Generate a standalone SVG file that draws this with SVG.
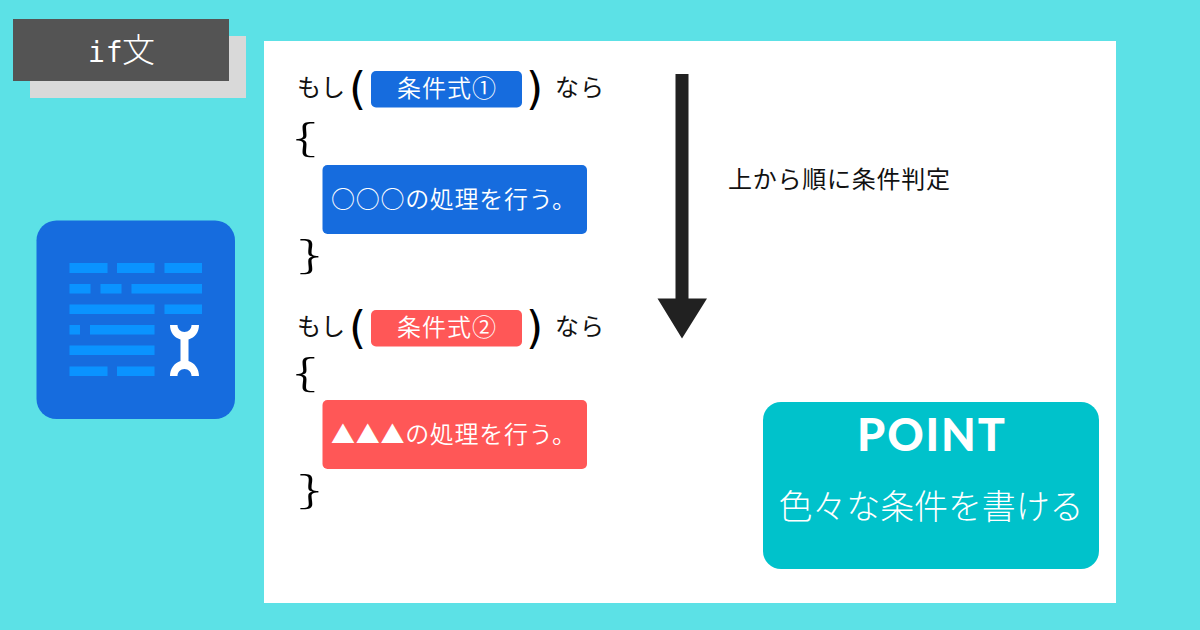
<svg xmlns="http://www.w3.org/2000/svg" width="1200" height="630" viewBox="0 0 1200 630">
<style>
text{font-family:"Noto Sans CJK JP","Noto Sans",sans-serif;}
.b{fill:#111;font-size:24px;font-weight:400}
.w{fill:#fff;font-size:24px;font-weight:350}
.p{font-family:"DejaVu Sans","Noto Sans",sans-serif;fill:#000;font-size:44px}
.br{fill:#000;font-size:37px;font-weight:300}
.c{fill:#0a93ff}
</style>
<rect width="1200" height="630" fill="#5ce1e6"/>
<rect x="264" y="41" width="852" height="562" fill="#fff"/>
<g id="title">
<rect x="30" y="36" width="216" height="62" fill="#d9d9d9"/>
<rect x="13" y="19" width="216" height="62" fill="#545454"/>
<text x="88" y="62" fill="#fff" style="font-family:'DejaVu Sans Mono',monospace;font-size:28px" letter-spacing="1">if</text>
<text x="122" y="62" font-size="33" fill="#fff" font-weight="300">文</text>
</g>
<g id="icon">
<rect x="36.500" y="220.500" width="198.500" height="198.500" rx="20" fill="#166cde"/>
<rect class="c" x="69.500" y="263" width="38" height="10"/><rect class="c" x="117" y="263" width="37.500" height="10"/><rect class="c" x="164.500" y="263" width="37.500" height="10"/>
<rect class="c" x="69.500" y="284" width="21" height="9.500"/><rect class="c" x="100.500" y="284" width="21" height="9.500"/><rect class="c" x="131.500" y="284" width="70.500" height="9.500"/>
<rect class="c" x="69.500" y="304.500" width="85" height="9.500"/><rect class="c" x="164.500" y="304.500" width="37.500" height="9.500"/>
<rect class="c" x="69.500" y="325" width="10.500" height="9.500"/><rect class="c" x="90" y="325" width="64.500" height="9.500"/>
<rect class="c" x="69.500" y="345.500" width="85" height="9.500"/>
<rect class="c" x="69.500" y="366.500" width="38" height="9.500"/><rect class="c" x="117" y="366.500" width="37.500" height="9.500"/>
<path d="M170 325h7.500c0 4 3 7 7 7s7-3 7-7h7.500c0 7-4 12.500-10.500 14.500v21.500c6.500 2 10.500 8 10.500 15h-7.500c0-4-3-7-7-7s-7 3-7 7h-7.500c0-7 4-13 10.500-15v-21.500c-6.500-2-10.500-7.500-10.500-14.500z" fill="#fff"/>
</g>
<g id="cond1">
<text class="b" x="297" y="96">もし</text>
<text class="p" x="349" y="104">(</text>
<rect x="371" y="71" width="151" height="36.500" rx="5" fill="#166cde"/>
<text class="w" x="397" y="97" textLength="99">条件式①</text>
<text class="p" x="526" y="104">)</text>
<text class="b" x="555" y="96" textLength="49">なら</text>
</g>
<g id="block1">
<text class="br" transform="translate(293.500 151) scale(1.95 1)">{</text>
<rect x="322.500" y="165" width="264.500" height="69" rx="5" fill="#166cde"/>
<text class="w" x="331" y="208" textLength="245">○○○の処理を行う。</text>
<text class="br" transform="translate(298.500 268) scale(1.95 1)">}</text>
</g>
<g id="cond2">
<text class="b" x="297" y="335">もし</text>
<text class="p" x="349" y="343">(</text>
<rect x="371" y="310" width="151" height="36.500" rx="5" fill="#ff5757"/>
<text class="w" x="397" y="336" textLength="99">条件式②</text>
<text class="p" x="526" y="343">)</text>
<text class="b" x="555" y="335" textLength="49">なら</text>
</g>
<g id="block2">
<text class="br" transform="translate(293.500 386) scale(1.95 1)">{</text>
<rect x="322.500" y="400" width="264.500" height="69" rx="5" fill="#ff5757"/>
<text class="w" x="331" y="443" textLength="245">▲▲▲の処理を行う。</text>
<text class="br" transform="translate(298.500 503) scale(1.95 1)">}</text>
</g>
<g id="connectors">
<path d="M675.500 74h13v224.500h18.500l-25 40-24.500-40h18z" fill="#212121"/>
</g>
<text class="b" x="728" y="188" textLength="222">上から順に条件判定</text>
<g id="point">
<rect x="763" y="402" width="336" height="167" rx="18" fill="#00c2cb"/>
<text x="931" y="451" text-anchor="middle" font-size="45" font-weight="900" fill="#fff" textLength="148" style="font-family:'Lato','Noto Sans',sans-serif">POINT</text>
<text x="931" y="519" text-anchor="middle" font-size="34" fill="#fff" textLength="305" style="font-weight:300">色々な条件を書ける</text>
</g>
</svg>
